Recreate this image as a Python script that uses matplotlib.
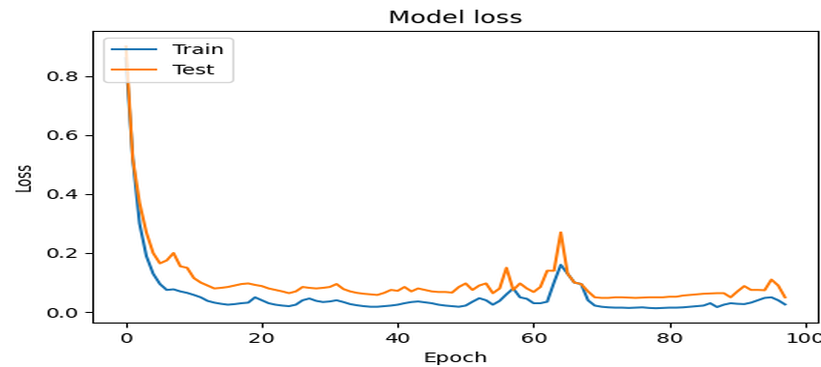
import io

import matplotlib
matplotlib.use("Agg")
import matplotlib.pyplot as plt
from PIL import Image

epochs = list(range(98))

train_loss = [
    0.86, 0.52, 0.30, 0.19, 0.13, 0.095, 0.075, 0.077, 0.070, 0.065,
    0.058, 0.050, 0.038, 0.032, 0.028, 0.025, 0.027, 0.030, 0.032, 0.050,
    0.040, 0.030, 0.025, 0.022, 0.020, 0.025, 0.040, 0.046, 0.038, 0.034,
    0.036, 0.040, 0.034, 0.027, 0.023, 0.020, 0.018, 0.018, 0.020, 0.022,
    0.025, 0.030, 0.034, 0.036, 0.033, 0.030, 0.025, 0.022, 0.020, 0.018,
    0.022, 0.035, 0.047, 0.040, 0.025, 0.038, 0.060, 0.080, 0.050, 0.045,
    0.030, 0.030, 0.035, 0.100, 0.160, 0.130, 0.100, 0.095, 0.040, 0.022,
    0.018, 0.016, 0.015, 0.015, 0.014, 0.015, 0.016, 0.014, 0.013, 0.014,
    0.015, 0.015, 0.016, 0.018, 0.020, 0.022, 0.030, 0.017, 0.025, 0.030,
    0.028, 0.027, 0.032, 0.040, 0.048, 0.050, 0.040, 0.026,
]

test_loss = [
    0.90, 0.52, 0.37, 0.27, 0.20, 0.165, 0.175, 0.200, 0.155, 0.150,
    0.115, 0.100, 0.090, 0.080, 0.082, 0.085, 0.090, 0.095, 0.097, 0.092,
    0.088, 0.080, 0.075, 0.070, 0.064, 0.070, 0.085, 0.082, 0.080, 0.082,
    0.085, 0.095, 0.078, 0.070, 0.065, 0.062, 0.060, 0.058, 0.065, 0.075,
    0.072, 0.085, 0.070, 0.080, 0.075, 0.070, 0.068, 0.068, 0.066, 0.085,
    0.097, 0.075, 0.090, 0.097, 0.064, 0.080, 0.150, 0.075, 0.097, 0.080,
    0.068, 0.085, 0.140, 0.140, 0.270, 0.130, 0.100, 0.095, 0.070, 0.050,
    0.048, 0.048, 0.050, 0.050, 0.049, 0.048, 0.049, 0.050, 0.050, 0.050,
    0.052, 0.052, 0.056, 0.058, 0.060, 0.062, 0.063, 0.064, 0.064, 0.050,
    0.070, 0.088, 0.075, 0.075, 0.074, 0.110, 0.090, 0.050,
]

# The chart is laid out on a narrower canvas and then widened to the final
# size, which gives the broad lettering of the exported figure.
OUT_SIZE = (821, 367)

fig = plt.figure(figsize=(5.33, 3.80), dpi=100)
ax = fig.add_axes([0.1133, 0.1199, 0.883, 0.7956])

ax.plot(epochs, train_loss, label="Train", color="#1f77b4", linewidth=1.5)
ax.plot(epochs, test_loss, label="Test", color="#ff7f0e", linewidth=1.5)

ax.set_ylim(-0.037, 0.952)
ax.set_title("Model loss", fontsize=12)
ax.set_xlabel("Epoch")
ax.set_ylabel("Loss")
ax.legend(loc="upper left")

buf = io.BytesIO()
fig.savefig(buf, format="png", dpi=100)
buf.seek(0)
Image.open(buf).convert("RGB").resize(OUT_SIZE, Image.LANCZOS).save("out.png")
